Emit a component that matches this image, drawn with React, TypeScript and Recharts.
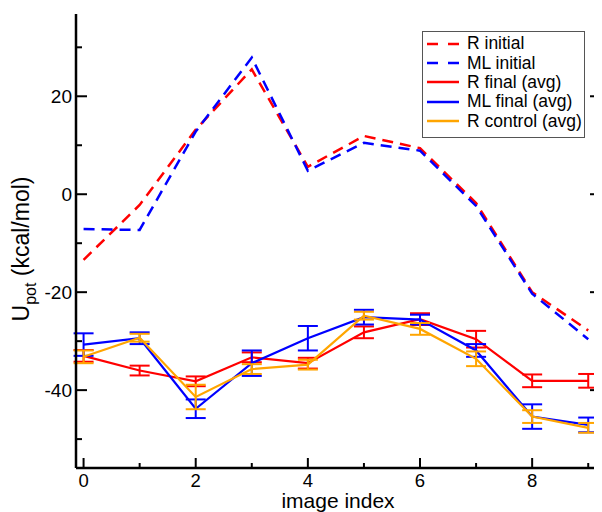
import { CartesianGrid, ErrorBar, Label, Legend, Line, LineChart, XAxis, YAxis } from "recharts";

const FONT = "'Liberation Sans', Arial, Helvetica, sans-serif";
const RED = "#ff0000";
const BLUE = "#0000ff";
const ORANGE = "#ffa500";
const DASH = "11 7";

// image index along the path
const imageIndex = [0, 1, 2, 3, 4, 5, 6, 7, 8, 9];

// potential energy, kcal/mol
const rInitial = [-13.4, -2.2, 13.2, 25.5, 5.6, 11.9, 9.4, -1.8, -20.0, -27.8];
const mlInitial = [-7.1, -7.3, 12.8, 27.9, 4.8, 10.5, 8.9, -2.4, -20.3, -29.6];
const rFinal = [-33.0, -36.0, -38.2, -33.3, -34.5, -28.2, -25.5, -29.6, -38.1, -38.1];
const rFinalErr = [1.2, 1.0, 1.0, 1.0, 1.1, 1.2, 1.2, 1.7, 1.3, 1.4];
const mlFinal = [-30.7, -29.4, -43.8, -34.5, -29.4, -25.1, -25.6, -31.9, -45.4, -47.1];
const mlFinalErr = [2.3, 1.2, 1.9, 2.6, 2.5, 1.5, 1.0, 1.3, 2.5, 1.5];
const rControl = [-33.2, -29.3, -41.4, -35.7, -34.8, -24.8, -27.5, -33.6, -45.4, -47.7];
const rControlErr = [1.3, 0.8, 2.5, 1.0, 1.0, 0.8, 1.2, 1.5, 1.3, 1.0];

const xTicks = [0, 1, 2, 3, 4, 5, 6, 7, 8, 9];
const yTicks = [-50, -40, -30, -20, -10, 0, 10, 20, 30];
const X_DOMAIN: [number, number] = [-0.135, 9.21];
const Y_DOMAIN: [number, number] = [-55.9, 36.8];

const data = imageIndex.map((idx, i) => ({
  idx,
  rInitial: rInitial[i],
  mlInitial: mlInitial[i],
  rFinal: rFinal[i],
  rFinalErr: rFinalErr[i],
  mlFinal: mlFinal[i],
  mlFinalErr: mlFinalErr[i],
  rControl: rControl[i],
  rControlErr: rControlErr[i],
}));

const legendItems = [
  { name: "R initial", color: RED, dashed: true },
  { name: "ML initial", color: BLUE, dashed: true },
  { name: "R final (avg)", color: RED, dashed: false },
  { name: "ML final (avg)", color: BLUE, dashed: false },
  { name: "R control (avg)", color: ORANGE, dashed: false },
];

const isMajorX = (v: number) => v % 2 === 0;
const isMajorY = (v: number) => v % 20 === 0;

// inward ticks on all four sides, labels only on bottom/left majors
function BottomTick({ x, y, payload }: any) {
  const major = isMajorX(payload.value);
  return (
    <g>
      <line x1={x} x2={x} y1={y} y2={y - (major ? 10 : 5)} stroke="#000" strokeWidth={2} />
      {major && (
        <text x={x} y={y + 19} textAnchor="middle" fontSize={18.5} fontFamily={FONT} fill="#000">
          {payload.value}
        </text>
      )}
    </g>
  );
}

function TopTick({ x, y, payload }: any) {
  const major = isMajorX(payload.value);
  return <line x1={x} x2={x} y1={y} y2={y + (major ? 10 : 5)} stroke="#000" strokeWidth={2} />;
}

function LeftTick({ x, y, payload }: any) {
  const major = isMajorY(payload.value);
  return (
    <g>
      <line x1={x} x2={x + (major ? 11 : 6)} y1={y} y2={y} stroke="#000" strokeWidth={2} />
      {major && (
        <text x={x - 4} y={y} dy="0.36em" textAnchor="end" fontSize={19} fontFamily={FONT} fill="#000">
          {payload.value}
        </text>
      )}
    </g>
  );
}

function RightTick({ x, y, payload }: any) {
  const major = isMajorY(payload.value);
  return <line x1={x} x2={x - (major ? 10 : 5)} y1={y} y2={y} stroke="#000" strokeWidth={2} />;
}

function YTitle() {
  return (
    <text
      transform="translate(21, 241) rotate(-90)"
      textAnchor="middle"
      fontSize={23}
      fontFamily={FONT}
      fill="#000"
    >
      U
      <tspan fontSize={16} dy={7}>
        pot
      </tspan>
      <tspan dy={-7}> (kcal/mol)</tspan>
    </text>
  );
}

function XTitle() {
  return (
    <text x={330} y={500} textAnchor="middle" fontSize={21} fontFamily={FONT} fill="#000">
      image index
    </text>
  );
}

function LegendBox() {
  return (
    <div
      style={{
        width: 163,
        height: 107,
        boxSizing: "border-box",
        border: "1px solid #555",
        background: "#fff",
        fontFamily: FONT,
        fontSize: 17.5,
        paddingTop: 2,
      }}
    >
      {legendItems.map((item) => (
        <div key={item.name} style={{ display: "flex", alignItems: "center", height: 19.4, whiteSpace: "nowrap" }}>
          <svg width={44} height={10} style={{ flex: "none" }}>
            <line
              x1={4}
              x2={36}
              y1={5}
              y2={5}
              stroke={item.color}
              strokeWidth={2.5}
              strokeDasharray={item.dashed ? "11 10" : undefined}
            />
          </svg>
          <span style={{ lineHeight: "19px" }}>{item.name}</span>
        </div>
      ))}
    </div>
  );
}

export default function App() {
  return (
    <LineChart width={594} height={504} data={data} margin={{ top: 6, right: 0, bottom: 0, left: 0 }}>
      <CartesianGrid stroke="none" xAxisId="b" yAxisId="l" />
      <XAxis
        xAxisId="b"
        type="number"
        dataKey="idx"
        domain={X_DOMAIN}
        allowDataOverflow
        ticks={xTicks}
        interval={0}
        height={44}
        tickSize={0}
        tickMargin={0}
        tickLine={false}
        axisLine={{ stroke: "#000", strokeWidth: 2.5 }}
        tick={<BottomTick />}
      >
        <Label content={<XTitle />} />
      </XAxis>
      <XAxis
        xAxisId="t"
        orientation="top"
        type="number"
        dataKey="idx"
        domain={X_DOMAIN}
        allowDataOverflow
        ticks={xTicks}
        interval={0}
        height={0}
        tickSize={0}
        tickMargin={0}
        tickLine={false}
        axisLine={{ stroke: "#000", strokeWidth: 2.5 }}
        tick={<TopTick />}
      />
      <YAxis
        yAxisId="l"
        type="number"
        domain={Y_DOMAIN}
        allowDataOverflow
        ticks={yTicks}
        interval={0}
        width={68}
        tickSize={0}
        tickMargin={0}
        tickLine={false}
        axisLine={{ stroke: "#000", strokeWidth: 2.5 }}
        tick={<LeftTick />}
      >
        <Label content={<YTitle />} />
      </YAxis>
      <YAxis
        yAxisId="r"
        orientation="right"
        type="number"
        domain={Y_DOMAIN}
        allowDataOverflow
        ticks={yTicks}
        interval={0}
        width={2}
        tickSize={0}
        tickMargin={0}
        tickLine={false}
        axisLine={{ stroke: "#000", strokeWidth: 2.5 }}
        tick={<RightTick />}
      />
      <Legend
        layout="vertical"
        align="center"
        verticalAlign="middle"
        wrapperStyle={{ top: 23, left: 414, width: 163, height: 107 }}
        content={<LegendBox />}
      />
      <Line
        xAxisId="b"
        yAxisId="l"
        dataKey="rInitial"
        stroke={RED}
        strokeWidth={2.5}
        strokeDasharray={DASH}
        dot={false}
        isAnimationActive={false}
      />
      <Line
        xAxisId="b"
        yAxisId="l"
        dataKey="mlInitial"
        stroke={BLUE}
        strokeWidth={2.5}
        strokeDasharray={DASH}
        dot={false}
        isAnimationActive={false}
      />
      <Line xAxisId="b" yAxisId="l" dataKey="rFinal" stroke={RED} strokeWidth={2.2} dot={false} isAnimationActive={false}>
        <ErrorBar dataKey="rFinalErr" direction="y" width={10} stroke={RED} strokeWidth={2} isAnimationActive={false} />
      </Line>
      <Line xAxisId="b" yAxisId="l" dataKey="mlFinal" stroke={BLUE} strokeWidth={2.2} dot={false} isAnimationActive={false}>
        <ErrorBar dataKey="mlFinalErr" direction="y" width={10} stroke={BLUE} strokeWidth={2} isAnimationActive={false} />
      </Line>
      <Line xAxisId="b" yAxisId="l" dataKey="rControl" stroke={ORANGE} strokeWidth={2.2} dot={false} isAnimationActive={false}>
        <ErrorBar dataKey="rControlErr" direction="y" width={10} stroke={ORANGE} strokeWidth={2} isAnimationActive={false} />
      </Line>
    </LineChart>
  );
}
